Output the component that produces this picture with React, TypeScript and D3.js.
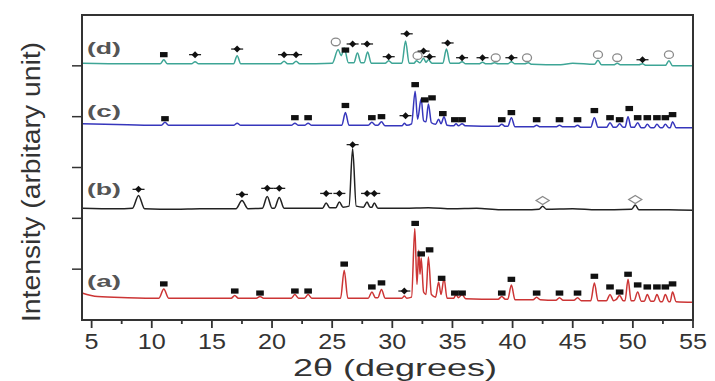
import React from "react";
import * as d3 from "d3";

// ---------- data (2θ in degrees, intensity in arbitrary offset units) ----------
const xTicks = [5, 10, 15, 20, 25, 30, 35, 40, 45, 50, 55];
const xMinorTicks = [7.5, 12.5, 17.5, 22.5, 27.5, 32.5, 37.5, 42.5, 47.5, 52.5];
const yTicks = [1, 2, 3, 4, 5];
const seriesNames = ["(a)", "(b)", "(c)", "(d)"];
const seriesColors = ["#cc3535", "#222222", "#3636bc", "#3ea596"];

const seriesA: [number, number][] = [
  [4.2, 0.53], [5.5, 0.46], [8, 0.44], [10.6, 0.43], [11.0, 0.61], [11.4, 0.43], [16.6, 0.43], [16.9, 0.48], [17.2, 0.43],
  [18.7, 0.43], [19.0, 0.46], [19.3, 0.43], [21.6, 0.43], [21.9, 0.5], [22.2, 0.43], [22.7, 0.43], [23.0, 0.5], [23.3, 0.43],
  [25.7, 0.43], [26.0, 0.98], [26.3, 0.43], [28.0, 0.43], [28.3, 0.55], [28.6, 0.44], [28.8, 0.44], [29.1, 0.6], [29.4, 0.43],
  [30.8, 0.43], [31.0, 0.47], [31.2, 0.43], [31.6, 0.45], [31.87, 1.8], [32.05, 0.7], [32.2, 1.37], [32.3, 0.9], [32.4, 1.22],
  [32.6, 0.55], [32.8, 0.5], [33.0, 1.24], [33.25, 0.5], [33.6, 0.45], [33.85, 0.75], [34.05, 0.5], [34.3, 0.82], [34.55, 0.43],
  [35.1, 0.43], [35.3, 0.5], [35.5, 0.44], [35.8, 0.5], [36.1, 0.42], [38.8, 0.41], [39.1, 0.46], [39.4, 0.41], [39.6, 0.41],
  [39.9, 0.69], [40.2, 0.4], [41.7, 0.4], [42.0, 0.45], [42.3, 0.4], [43.6, 0.39], [43.9, 0.44], [44.2, 0.39], [45.1, 0.39],
  [45.4, 0.44], [45.7, 0.38], [46.5, 0.38], [46.8, 0.73], [47.1, 0.38], [47.8, 0.38], [48.1, 0.5], [48.4, 0.38], [48.6, 0.4],
  [48.9, 0.48], [49.2, 0.38], [49.35, 0.38], [49.6, 0.8], [49.85, 0.38], [50.1, 0.38], [50.4, 0.55], [50.7, 0.37], [50.95, 0.37],
  [51.2, 0.5], [51.5, 0.37], [51.75, 0.37], [52.0, 0.5], [52.3, 0.36], [52.45, 0.36], [52.7, 0.5], [53.0, 0.36], [53.1, 0.36],
  [53.3, 0.55], [53.6, 0.36], [55, 0.35],
];

const seriesB: [number, number][] = [
  [4.2, 2.2], [7, 2.19], [8.4, 2.2], [8.9, 2.45], [9.4, 2.19], [12, 2.18], [14, 2.19], [17.0, 2.19], [17.5, 2.35], [18.0, 2.19],
  [19.2, 2.2], [19.6, 2.43], [20.0, 2.2], [20.2, 2.2], [20.6, 2.41], [21.0, 2.2], [23, 2.2], [24.2, 2.2], [24.5, 2.3], [24.8, 2.21],
  [25.3, 2.21], [25.6, 2.32], [25.9, 2.22], [26.4, 2.24], [26.7, 3.37], [27.0, 2.24], [27.6, 2.22], [27.9, 2.32], [28.15, 2.22],
  [28.3, 2.22], [28.5, 2.3], [28.8, 2.2], [31, 2.2], [33, 2.21], [35, 2.19], [37, 2.2], [39, 2.17], [41, 2.17], [42.2, 2.18],
  [42.5, 2.24], [42.8, 2.18], [45, 2.19], [47, 2.17], [49.9, 2.18], [50.2, 2.26], [50.5, 2.17], [53, 2.17], [55, 2.16],
];

const seriesC: [number, number][] = [
  [4.2, 3.86], [8, 3.84], [10.8, 3.83], [11.1, 3.89], [11.4, 3.83], [16.8, 3.83], [17.1, 3.87], [17.4, 3.83], [21.6, 3.83],
  [21.9, 3.87], [22.2, 3.83], [22.7, 3.83], [23.0, 3.87], [23.3, 3.83], [25.8, 3.83], [26.1, 4.08], [26.4, 3.83], [28.0, 3.83],
  [28.3, 3.89], [28.6, 3.83], [28.8, 3.83], [29.1, 3.9], [29.4, 3.82], [30.8, 3.82], [31.0, 3.87], [31.2, 3.83], [31.6, 3.86],
  [31.9, 4.5], [32.1, 3.95], [32.4, 4.35], [32.6, 3.92], [32.8, 3.9], [33.0, 4.25], [33.25, 3.88], [33.6, 3.85], [33.85, 3.95],
  [34.05, 3.86], [34.3, 4.0], [34.55, 3.83], [35.1, 3.82], [35.3, 3.86], [35.5, 3.82], [35.8, 3.86], [36.1, 3.82], [38.8, 3.81],
  [39.1, 3.85], [39.4, 3.81], [39.6, 3.81], [39.9, 3.98], [40.2, 3.8], [41.7, 3.8], [42.0, 3.83], [42.3, 3.8], [43.6, 3.8],
  [43.9, 3.83], [44.2, 3.8], [45.1, 3.8], [45.4, 3.83], [45.7, 3.79], [46.5, 3.79], [46.8, 3.98], [47.1, 3.79], [47.8, 3.79],
  [48.1, 3.88], [48.4, 3.79], [48.6, 3.79], [48.9, 3.86], [49.2, 3.79], [49.35, 3.79], [49.6, 4.0], [49.85, 3.79], [50.1, 3.79],
  [50.4, 3.88], [50.7, 3.78], [50.95, 3.78], [51.2, 3.85], [51.5, 3.78], [51.75, 3.78], [52.0, 3.85], [52.3, 3.78], [52.45, 3.78],
  [52.7, 3.85], [53.0, 3.78], [53.1, 3.78], [53.3, 3.9], [53.6, 3.78], [55, 3.78],
];

const seriesD: [number, number][] = [
  [4.2, 5.05], [8, 5.04], [10.7, 5.04], [11.0, 5.12], [11.3, 5.04], [13.3, 5.04], [13.6, 5.08], [13.9, 5.04], [16.8, 5.04],
  [17.1, 5.2], [17.4, 5.04], [20.7, 5.04], [21.0, 5.09], [21.3, 5.04], [21.7, 5.04], [22.0, 5.09], [22.3, 5.04], [25.0, 5.05],
  [25.5, 5.32], [25.75, 5.2], [26.0, 5.35], [26.35, 5.06], [26.8, 5.06], [27.1, 5.25], [27.4, 5.06], [27.65, 5.06], [27.95, 5.27],
  [28.25, 5.05], [29.4, 5.05], [29.7, 5.1], [30.0, 5.05], [30.8, 5.05], [31.1, 5.49], [31.4, 5.05], [31.8, 5.05], [32.0, 5.1],
  [32.3, 5.06], [32.6, 5.15], [32.8, 5.07], [33.0, 5.12], [33.3, 5.05], [34.2, 5.05], [34.5, 5.33], [34.8, 5.05], [35.5, 5.05],
  [35.8, 5.08], [36.1, 5.04], [37.2, 5.04], [37.5, 5.07], [37.8, 5.04], [38.2, 5.04], [38.5, 5.06], [38.8, 5.04], [39.6, 5.04],
  [39.9, 5.08], [40.2, 5.04], [41.0, 5.04], [41.3, 5.06], [41.6, 5.03], [44, 5.02], [45, 5.05], [46.8, 5.03], [47.1, 5.11],
  [47.4, 5.02], [48.4, 5.02], [48.7, 5.05], [49, 5.02], [50.5, 5.02], [50.8, 5.04], [51.1, 5.01], [52.7, 5.01], [53.0, 5.1],
  [53.3, 5.0], [55, 5.0],
];

// phase markers: [2θ, intensity, kind]  kind: "sq" filled square, "dm" diamond, "oc" open circle, "od" open diamond
const markersA: [number, number, string][] = [
  [11.0, 0.71, "sq"], [16.9, 0.57, "sq"], [19.0, 0.53, "sq"], [21.9, 0.57, "sq"], [23.0, 0.57, "sq"], [26.0, 1.1, "sq"],
  [28.3, 0.65, "sq"], [29.1, 0.73, "sq"], [31.0, 0.57, "dm"], [31.9, 1.9, "sq"], [32.4, 1.3, "sq"], [33.1, 1.38, "sq"],
  [34.1, 0.82, "sq"], [35.2, 0.53, "sq"], [35.8, 0.53, "sq"], [39.1, 0.53, "sq"], [39.9, 0.8, "sq"], [42.0, 0.53, "sq"],
  [43.9, 0.53, "sq"], [45.4, 0.53, "sq"], [46.8, 0.86, "sq"], [48.1, 0.65, "sq"], [48.9, 0.55, "sq"], [49.6, 0.9, "sq"],
  [50.4, 0.69, "sq"], [51.2, 0.65, "sq"], [52.0, 0.65, "sq"], [52.7, 0.65, "sq"], [53.3, 0.71, "sq"],
];
const markersB: [number, number, string][] = [
  [8.9, 2.57, "dm"], [17.5, 2.47, "dm"], [19.6, 2.59, "dm"], [20.6, 2.59, "dm"], [24.5, 2.49, "dm"], [25.6, 2.49, "dm"],
  [26.7, 3.45, "dm"], [27.9, 2.49, "dm"], [28.5, 2.49, "dm"], [42.5, 2.35, "od"], [50.2, 2.37, "od"],
];
const markersC: [number, number, string][] = [
  [11.1, 3.96, "sq"], [21.9, 3.98, "sq"], [23.0, 3.98, "sq"], [26.1, 4.22, "sq"], [28.3, 3.98, "sq"], [29.1, 4.0, "sq"],
  [31.1, 4.02, "dm"], [31.9, 4.63, "sq"], [32.7, 4.33, "sq"], [33.3, 4.37, "sq"], [34.2, 4.06, "sq"], [35.2, 3.94, "sq"],
  [35.8, 3.94, "sq"], [39.1, 3.94, "sq"], [39.9, 4.08, "sq"], [42.0, 3.94, "sq"], [43.9, 3.94, "sq"], [45.4, 3.94, "sq"],
  [46.8, 4.12, "sq"], [48.1, 3.98, "sq"], [48.9, 3.94, "sq"], [49.7, 4.16, "sq"], [50.4, 3.98, "sq"], [51.2, 3.98, "sq"],
  [52.0, 3.98, "sq"], [52.7, 3.98, "sq"], [53.3, 4.04, "sq"],
];
const markersD: [number, number, string][] = [
  [11.0, 5.22, "sq"], [13.6, 5.22, "dm"], [17.1, 5.33, "dm"], [21.0, 5.22, "dm"], [22.0, 5.22, "dm"], [25.3, 5.47, "oc"],
  [26.1, 5.31, "sq"], [26.7, 5.43, "dm"], [27.9, 5.43, "dm"], [29.7, 5.18, "dm"], [31.2, 5.63, "dm"], [32.1, 5.2, "oc"],
  [32.6, 5.29, "dm"], [33.1, 5.18, "dm"], [34.6, 5.45, "dm"], [35.8, 5.16, "dm"], [37.5, 5.16, "dm"], [38.6, 5.16, "oc"],
  [39.9, 5.16, "dm"], [41.2, 5.16, "oc"], [47.1, 5.22, "oc"], [48.7, 5.16, "oc"], [50.8, 5.12, "dm"], [53.0, 5.22, "oc"],
];

const allSeries = [seriesA, seriesB, seriesC, seriesD];
const allMarkers = [markersA, markersB, markersC, markersD];

// ---------- layout ----------
const W = 715;
const H = 381;
const left = 82;
const right = 693;
const top = 15;
const bottom = 320;
const FONT = "'Liberation Sans', Arial, sans-serif";

export default function App() {
  const x = d3.scaleLinear().domain([4.2, 55]).range([left, right]);
  const y = d3.scaleLinear().domain([0, 6]).range([bottom, top]);
  const line = d3
    .line<[number, number]>()
    .x((d) => x(d[0]))
    .y((d) => y(d[1]))
    .curve(d3.curveMonotoneX);

  const labelPos = [
    [87, 287],
    [87, 195],
    [87, 117],
    [87, 54],
  ];

  const renderMarker = (m: [number, number, string], i: number) => {
    const cx = x(m[0]);
    const cy = y(m[1]);
    if (m[2] === "sq") {
      return <rect key={i} x={cx - 3.8} y={cy - 2.6} width={7.6} height={5.2} fill="#111" />;
    }
    if (m[2] === "dm") {
      return (
        <g key={i}>
          <line x1={cx - 6} x2={cx + 6} y1={cy} y2={cy} stroke="#222" strokeWidth={1.3} />
          <path d={`M${cx},${cy - 3.5}L${cx + 3.5},${cy}L${cx},${cy + 3.5}L${cx - 3.5},${cy}Z`} fill="#111" />
        </g>
      );
    }
    if (m[2] === "oc") {
      return <ellipse key={i} cx={cx} cy={cy} rx={4.5} ry={3.8} fill="#fff" stroke="#8a8a8a" strokeWidth={1.3} />;
    }
    return (
      <path
        key={i}
        d={`M${cx},${cy - 4}L${cx + 6.5},${cy}L${cx},${cy + 4}L${cx - 6.5},${cy}Z`}
        fill="#fff"
        stroke="#8a8a8a"
        strokeWidth={1.3}
      />
    );
  };

  return (
    <svg width={W} height={H} style={{ position: "absolute", left: 0, top: 0, background: "#fff", fontFamily: FONT }}>
      {/* series */}
      {allSeries.map((s, i) => (
        <path key={i} d={line(s) || ""} fill="none" stroke={seriesColors[i]} strokeWidth={1.5} strokeLinejoin="round" />
      ))}
      {/* markers */}
      {allMarkers.map((ms, i) => (
        <g key={i}>{ms.map((m, j) => renderMarker(m, j))}</g>
      ))}
      {/* series labels */}
      {seriesNames.map((n, i) => (
        <text
          key={n}
          x={labelPos[i][0]}
          y={labelPos[i][1]}
          fontSize={17}
          fontWeight="bold"
          fill="#555"
          style={{ fontFamily: FONT }}
          textLength={34}
          lengthAdjust="spacingAndGlyphs"
        >
          {n}
        </text>
      ))}
      {/* frame */}
      <rect x={left} y={top} width={right - left} height={bottom - top} fill="none" stroke="#333" strokeWidth={2} />
      {/* y ticks */}
      {yTicks.map((t) => (
        <line key={t} x1={left - 10} x2={left} y1={y(t)} y2={y(t)} stroke="#333" strokeWidth={1.5} />
      ))}
      {/* x ticks */}
      {xTicks.map((t) => (
        <line key={t} x1={x(t)} x2={x(t)} y1={bottom} y2={bottom + 8} stroke="#333" strokeWidth={1.8} />
      ))}
      {xMinorTicks.map((t) => (
        <line key={t} x1={x(t)} x2={x(t)} y1={bottom} y2={bottom + 4} stroke="#333" strokeWidth={1.8} />
      ))}
      {xTicks.map((t) => (
        <text
          key={t}
          x={x(t)}
          y={349}
          fontSize={22}
          fill="#333"
          textAnchor="middle"
          textLength={String(t).length * 14}
          lengthAdjust="spacingAndGlyphs"
        >
          {t}
        </text>
      ))}
      <text x={395} y={376} fontSize={24} fill="#333" textAnchor="middle" textLength={204} lengthAdjust="spacingAndGlyphs">
        2θ (degrees)
      </text>
      <text
        transform={`translate(40,182) rotate(-90)`}
        fontSize={25}
        fill="#333"
        textAnchor="middle"
        textLength={280}
        lengthAdjust="spacingAndGlyphs"
      >
        Intensity (arbitary unit)
      </text>
    </svg>
  );
}
